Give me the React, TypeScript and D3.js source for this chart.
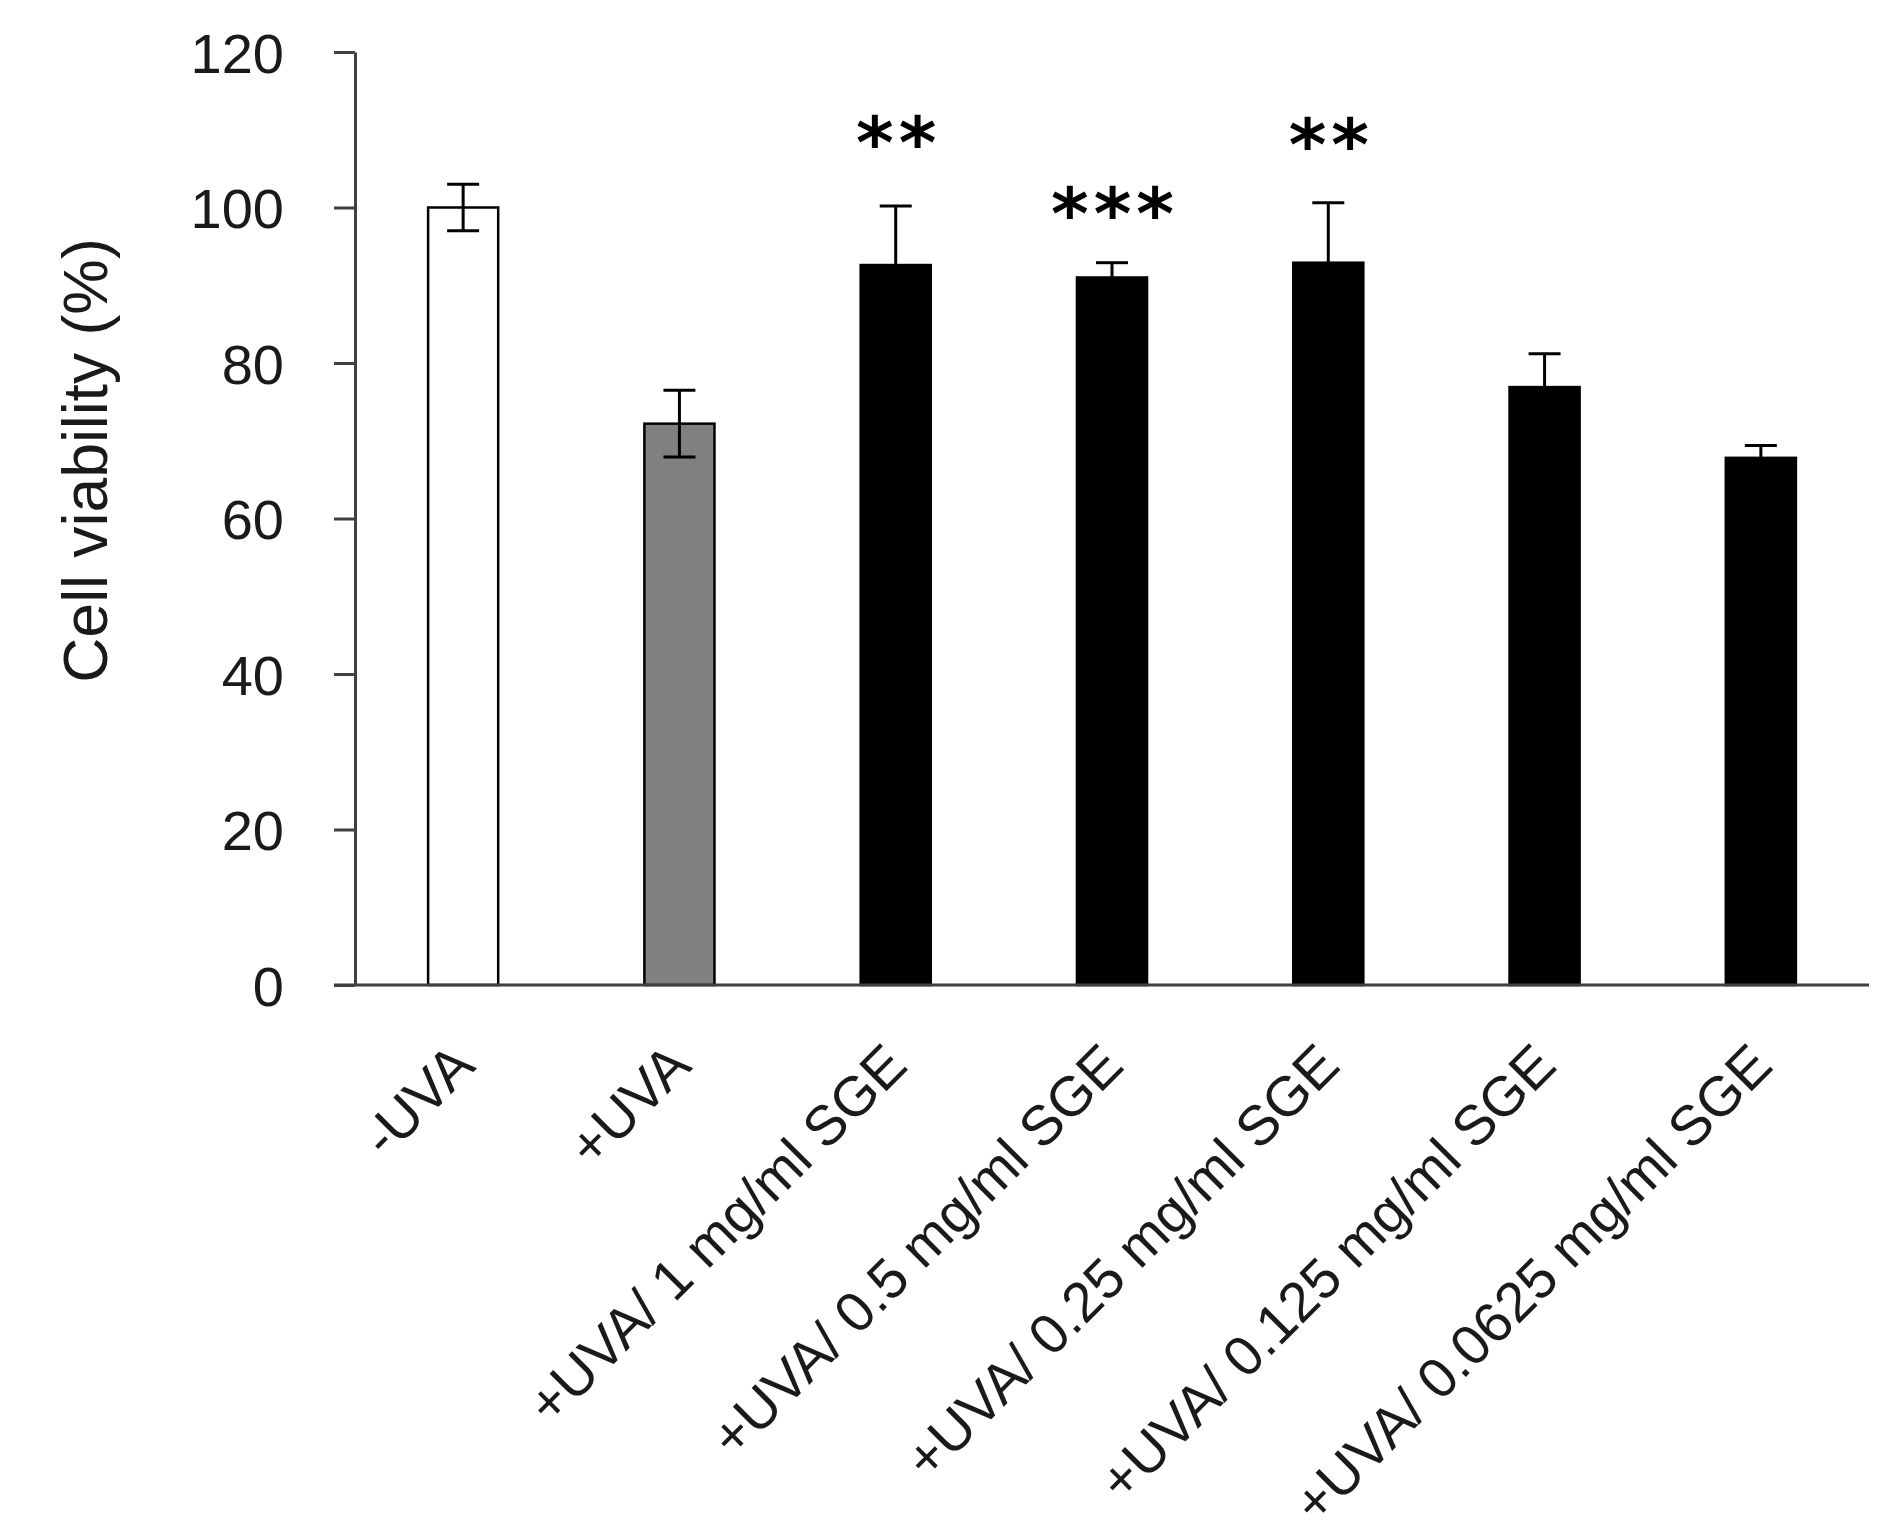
import React, { useEffect, useRef } from 'react'
import * as d3 from 'd3'

const categories = [
  '-UVA',
  '+UVA',
  '+UVA/ 1 mg/ml SGE',
  '+UVA/ 0.5 mg/ml SGE',
  '+UVA/ 0.25 mg/ml SGE',
  '+UVA/ 0.125 mg/ml SGE',
  '+UVA/ 0.0625 mg/ml SGE',
]
const viability = [100, 72.2, 92.6, 91.0, 92.9, 76.9, 67.8]
const errors = [3.0, 4.3, 7.6, 1.9, 7.7, 4.3, 1.6]
const barFills = ['#ffffff', '#808080', '#000000', '#000000', '#000000', '#000000', '#000000']
const stars = ['', '', '**', '***', '**', '', '']
// height (in axis units) where each significance mark sits
const starLevels = [0, 0, 109.7, 100.6, 109.5, 0, 0]
const yTicks = [0, 20, 40, 60, 80, 100, 120]

const W = 1892
const H = 1535
const FONT = '"Liberation Sans", Arial, sans-serif'
const INK = '#1a1a1a'
const AXIS = '#404040'

export default function App() {
  const ref = useRef<SVGSVGElement | null>(null)

  useEffect(() => {
    if (!ref.current) return
    const svg = d3.select(ref.current)
    svg.selectAll('*').remove()

    const left = 355
    const right = 1869
    const top = 52
    const bottom = 985

    const x = d3.scaleBand<string>().domain(categories).range([left, right]).paddingInner(0.676).paddingOuter(0.338)
    const y = d3.scaleLinear().domain([0, 120]).range([bottom, top])

    svg.append('rect').attr('width', W).attr('height', H).attr('fill', '#fff')

    // bars
    svg
      .append('g')
      .selectAll('rect')
      .data(categories)
      .join('rect')
      .attr('x', (d) => x(d)!)
      .attr('y', (_, i) => y(viability[i]))
      .attr('width', x.bandwidth())
      .attr('height', (_, i) => y(0) - y(viability[i]))
      .attr('fill', (_, i) => barFills[i])
      .attr('stroke', '#000')
      .attr('stroke-width', 2.5)

    // error bars
    const eb = svg.append('g').attr('stroke', '#000').attr('stroke-width', 3).attr('fill', 'none')
    const capHalf = 16
    categories.forEach((c, i) => {
      const cx = x(c)! + x.bandwidth() / 2
      const hi = y(viability[i] + errors[i])
      const lo = y(viability[i] - errors[i])
      eb.append('line').attr('x1', cx).attr('x2', cx).attr('y1', hi).attr('y2', lo)
      eb.append('line').attr('x1', cx - capHalf).attr('x2', cx + capHalf).attr('y1', hi).attr('y2', hi)
      eb.append('line').attr('x1', cx - capHalf).attr('x2', cx + capHalf).attr('y1', lo).attr('y2', lo)
    })

    // y axis
    const yAxis = svg
      .append('g')
      .attr('transform', `translate(${left},0)`)
      .call(d3.axisLeft(y).tickValues(yTicks).tickSize(21).tickPadding(50).tickSizeOuter(0))
    yAxis.select('.domain').attr('stroke', AXIS).attr('stroke-width', 3)
    yAxis.selectAll('.tick line').attr('stroke', AXIS).attr('stroke-width', 3)
    yAxis
      .selectAll('.tick text')
      .attr('fill', INK)
      .style('font-family', FONT)
      .style('font-size', '56px')
      .attr('dy', '0.36em')

    // x axis baseline
    svg
      .append('line')
      .attr('x1', left - 21)
      .attr('x2', right)
      .attr('y1', y(0))
      .attr('y2', y(0))
      .attr('stroke', AXIS)
      .attr('stroke-width', 3)

    // category labels
    svg
      .append('g')
      .selectAll('text')
      .data(categories)
      .join('text')
      .attr('transform', (d) => `translate(${x(d)! + x.bandwidth() / 2 + 14},${y(0) + 83}) rotate(-45)`)
      .attr('text-anchor', 'end')
      .attr('fill', INK)
      .style('font-family', FONT)
      .style('font-size', '56px')
      .text((d) => d)

    // significance marks
    svg
      .append('g')
      .selectAll('text')
      .data(categories.filter((_, i) => stars[i]))
      .join('text')
      .attr('x', (d) => x(d)! + x.bandwidth() / 2 + 3)
      .attr('y', (d) => y(starLevels[categories.indexOf(d)]))
      .attr('dy', '0.5em')
      .attr('text-anchor', 'middle')
      .attr('fill', '#000')
      .style('font-family', '"DejaVu Sans", sans-serif')
      .style('font-weight', 'bold')
      .style('font-size', '72px')
      .style('letter-spacing', '5px')
      .text((d) => stars[categories.indexOf(d)])

    // y axis title
    svg
      .append('text')
      .attr('transform', `translate(107,${(top + bottom) / 2 - 58}) rotate(-90)`)
      .attr('text-anchor', 'middle')
      .attr('fill', INK)
      .style('font-family', FONT)
      .style('font-size', '62.5px')
      .text('Cell viability (%)')
  }, [])

  return (
    <div style={{ position: 'absolute', left: 0, top: 0 }}>
      <svg ref={ref} width={W} height={H} role="img" aria-label="Cell viability bar chart" />
    </div>
  )
}
